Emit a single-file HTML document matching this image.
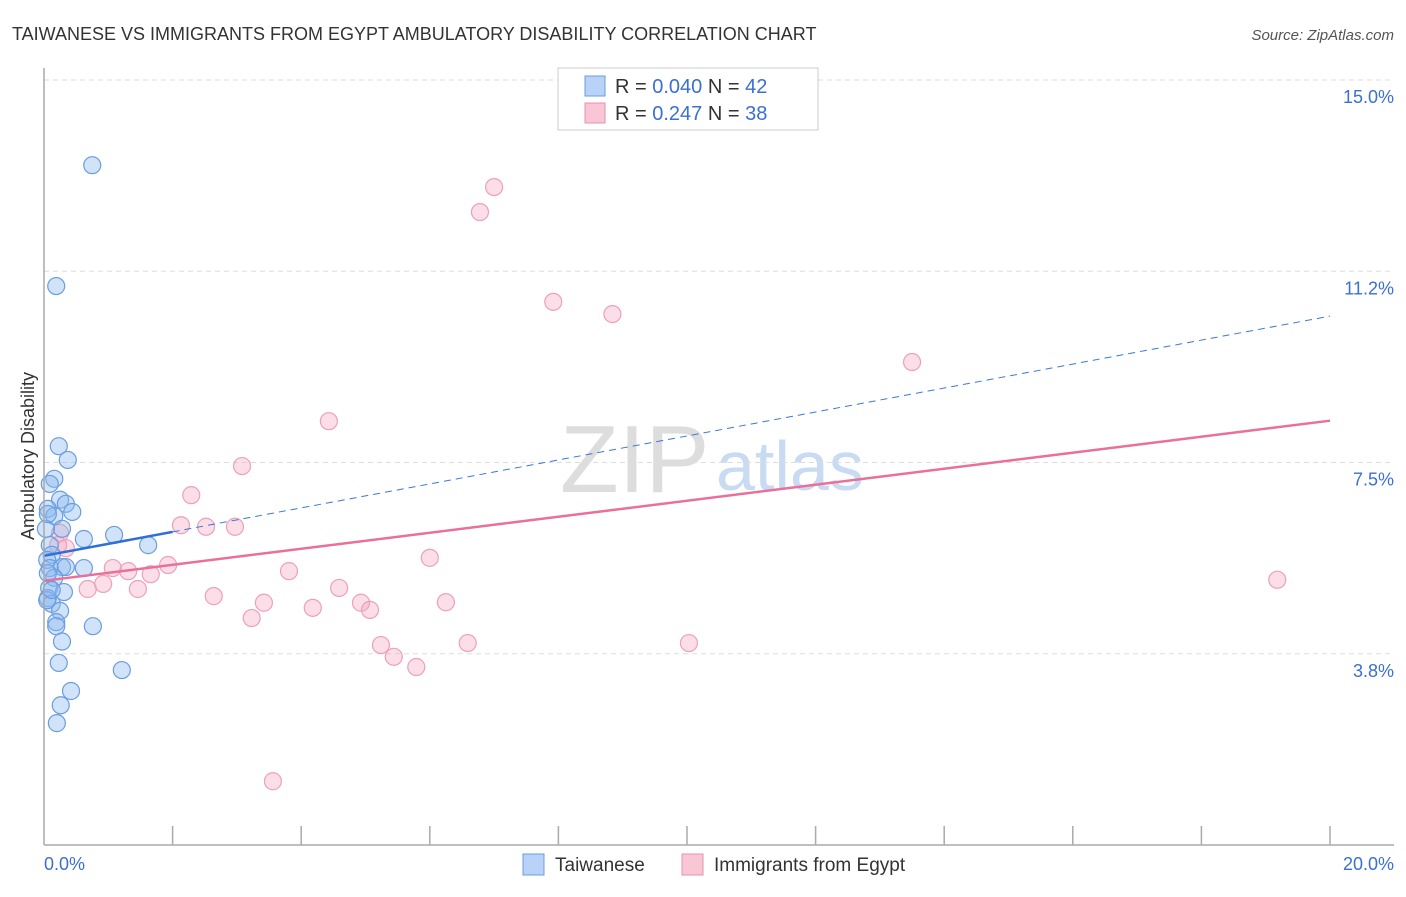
<!DOCTYPE html>
<html><head><meta charset="utf-8"><style>
body{margin:0;background:#fff;font-family:"Liberation Sans",sans-serif}
svg text{font-family:"Liberation Sans",sans-serif}
</style></head><body>
<svg width="1406" height="892" id="c">
<text x="12" y="40" font-size="18" fill="#333">TAIWANESE VS IMMIGRANTS FROM EGYPT AMBULATORY DISABILITY CORRELATION CHART</text>
<text x="1394" y="40" font-size="15" fill="#555" text-anchor="end" font-style="italic">Source: ZipAtlas.com</text>
<text x="560" y="492" font-size="96" fill="#ddd" font-family="Liberation Serif">ZIP</text>
<text x="716" y="490" font-size="70" fill="#c9daf3">atlas</text>
<text transform="translate(34,456) rotate(-90)" font-size="18" fill="#333" text-anchor="middle">Ambulatory Disability</text>
<g id="grid"></g><g id="pts"></g><g id="lines"></g>
<line x1="44" y1="68" x2="44" y2="845" stroke="#aaa" stroke-width="1.5"/>
<line x1="44" y1="845" x2="1394" y2="845" stroke="#aaa" stroke-width="1.5"/>
<text x="44" y="870" font-size="18" fill="#3b6fd4">0.0%</text>
<text x="1394" y="870" font-size="18" fill="#3b6fd4" text-anchor="end">20.0%</text>
<g>
<rect x="558" y="68" width="260" height="62" fill="#fff" stroke="#ccc"/>
<rect x="585" y="76" width="20" height="20" fill="#b8d3f7" stroke="#6a9de0"/>
<rect x="585" y="103" width="20" height="20" fill="#f9c6d5" stroke="#e890aa"/>
<text x="615" y="93" font-size="20" fill="#333">R = <tspan fill="#3b6fd4">0.040</tspan>   N = <tspan fill="#3b6fd4">42</tspan></text>
<text x="615" y="120" font-size="20" fill="#333">R =  <tspan fill="#3b6fd4">0.247</tspan>   N = <tspan fill="#3b6fd4">38</tspan></text>
</g>
<g>
<rect x="523" y="854" width="21" height="21" fill="#b8d3f7" stroke="#6a9de0"/>
<text x="555" y="871" font-size="19" fill="#333">Taiwanese</text>
<rect x="682" y="854" width="21" height="21" fill="#f9c6d5" stroke="#e890aa"/>
<text x="714" y="871" font-size="19" fill="#333">Immigrants from Egypt</text>
</g>
</svg>
<script>
const yTicks=[3.75,7.5,11.25,15];
const yTickLabels=["3.8%","7.5%","11.2%","15.0%"];
const xTicks=[2,4,6,8,10,12,14,16,18,20];
const taiwaneseX=[0.75,0.19,0.23,0.37,0.16,0.09,0.25,0.34,0.44,0.06,0.16,0.28,0.62,1.09,1.62,0.09,0.12,0.05,0.09,0.28,0.34,0.62,0.16,0.08,0.31,0.06,0.12,0.25,0.19,0.19,0.76,0.28,0.23,1.21,0.42,0.26,0.2,0.05,0.06,0.03,0.06,0.12];
const taiwaneseY=[13.33,10.96,7.82,7.55,7.18,7.08,6.77,6.69,6.53,6.59,6.45,6.2,6.0,6.08,5.88,5.88,5.69,5.59,5.43,5.45,5.45,5.43,5.24,5.04,4.96,4.84,4.73,4.59,4.37,4.29,4.29,3.99,3.57,3.43,3.02,2.74,2.39,4.8,5.33,6.2,6.49,5.0];
const egyptX=[7.0,6.78,7.92,8.84,13.5,4.43,3.08,2.29,2.13,2.52,2.97,0.25,0.34,0.22,6.0,1.93,1.07,1.31,3.81,1.66,0.92,0.68,1.46,4.59,2.64,4.93,6.25,3.42,4.18,5.07,3.23,10.03,5.24,6.59,5.44,5.79,19.18,3.56];
const egyptY=[12.9,12.41,10.65,10.41,9.47,8.31,7.43,6.86,6.27,6.24,6.24,6.12,5.82,5.88,5.63,5.49,5.43,5.37,5.37,5.31,5.12,5.02,5.02,5.04,4.88,4.75,4.76,4.75,4.65,4.61,4.45,3.96,3.92,3.96,3.69,3.49,5.2,1.25];
const trendIntercept=[5.67,5.18];
const trendSlope=[0.235,0.157];
const X=v=>44+v*64.3, Y=v=>845-v*51.0;
const NS="http://www.w3.org/2000/svg";
function mk(t,a,p){const e=document.createElementNS(NS,t);for(const k in a)e.setAttribute(k,a[k]);p.appendChild(e);return e;}
const grid=document.getElementById('grid');
yTicks.forEach((t,i)=>{
 const l=mk('line',{x1:44,x2:1394,y1:Y(t),y2:Y(t),stroke:'#ddd','stroke-dasharray':'5,4'},grid);
 
 
 const tx=mk('text',{x:1394,y:Y(t)+23,'font-size':18,fill:'#3b6fd4','text-anchor':'end'},grid);
 tx.textContent=yTickLabels[i];
 
 
});
xTicks.forEach(t=>{
 const l=mk('line',{x1:X(t),x2:X(t),y1:826,y2:845,stroke:'#aaa','stroke-width':1.5},grid);
 
 
});
const pts=document.getElementById('pts');
egyptX.forEach((x,i)=>{
 const c=mk('circle',{cx:X(x),cy:Y(egyptY[i]),r:8.5,fill:'rgba(244,160,185,0.35)',stroke:'#eea0b8','stroke-width':1.2},pts);
 
 
});
taiwaneseX.forEach((x,i)=>{
 const c=mk('circle',{cx:X(x),cy:Y(taiwaneseY[i]),r:8.5,fill:'rgba(140,185,240,0.4)',stroke:'#6a9de0','stroke-width':1.2},pts);
 
 
});
const lines=document.getElementById('lines');
const f=(s,x)=>trendIntercept[s]+trendSlope[s]*x;
let a=mk('line',{x1:X(2),y1:Y(f(0,2)),x2:X(20),y2:Y(f(0,20)),stroke:'#3b78d8','stroke-width':1,'stroke-dasharray':'7,5'},lines);


a=mk('line',{x1:X(0),y1:Y(f(0,0)),x2:X(2),y2:Y(f(0,2)),stroke:'#2f6fd6','stroke-width':2.5},lines);


a=mk('line',{x1:X(0),y1:Y(f(1,0)),x2:X(20),y2:Y(f(1,20)),stroke:'#e8709a','stroke-width':2.5},lines);


</script>
</body></html>
